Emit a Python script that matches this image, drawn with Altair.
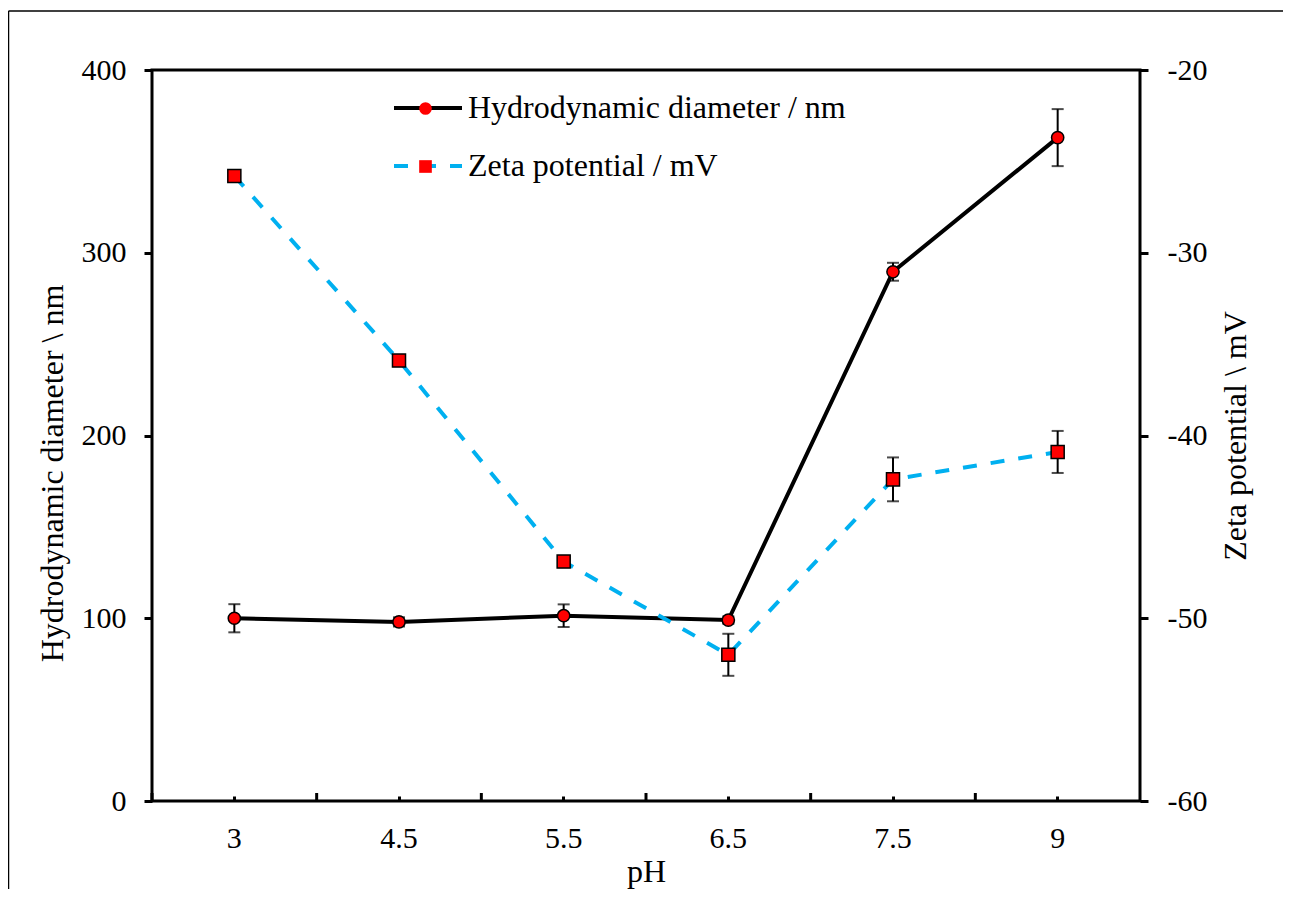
import altair as alt
import pandas as pd

pH = ["3", "4.5", "5.5", "6.5", "7.5", "9"]
hydro = [100, 98, 101.4, 99, 289.6, 363]
hydro_err = [7.7, 2.5, 6.2, 2, 4.9, 15.6]
zeta = [-25.8, -35.9, -46.9, -52.0, -42.4, -40.9]
zeta_err = [0.3, 0.3, 0.3, 1.15, 1.2, 1.15]

H_NAME = "Hydrodynamic diameter / nm"
Z_NAME = "Zeta potential / mV"

df = pd.DataFrame({
    "pH": pH,
    "hydro": hydro,
    "h_lo": [v - e for v, e in zip(hydro, hydro_err)],
    "h_hi": [v + e for v, e in zip(hydro, hydro_err)],
    "zeta": zeta,
    "z_lo": [v - e for v, e in zip(zeta, zeta_err)],
    "z_hi": [v + e for v, e in zip(zeta, zeta_err)],
    "hs": [H_NAME] * len(pH),
    "zs": [Z_NAME] * len(pH),
})

W, H = 988, 731
FONT = "Liberation Serif"
BLUE = "#00B0F0"
RED = "#FF0000"

x_axis = alt.Axis(title="pH", labelFontSize=30, labelFont=FONT, labelColor="black",
                  labelAngle=0, tickSize=5, tickWidth=3, tickColor="black",
                  offset=-5, labelPadding=22, domain=False, grid=False,
                  titleFont=FONT, titleFontSize=32, titleFontWeight="normal",
                  titleColor="black", titlePadding=3)
x_enc = alt.X("pH:N", sort=pH, axis=x_axis,
              scale=alt.Scale(paddingInner=0, paddingOuter=0))

base = alt.Chart(df)

y_left = alt.Y("hydro:Q", scale=alt.Scale(domain=[0, 400], nice=False),
               axis=alt.Axis(title="Hydrodynamic diameter \\ nm", values=[0, 100, 200, 300, 400],
                             orient="left", tickSize=8, tickWidth=3, tickColor="black",
                             domain=False, grid=False, labelFont=FONT, labelFontSize=30,
                             labelColor="black", labelPadding=18,
                             titleFont=FONT, titleFontSize=32, titleFontWeight="normal",
                             titleColor="black", titlePadding=12, titleY=403))
y_right = alt.Y("zeta:Q", scale=alt.Scale(domain=[-60, -20], nice=False),
                axis=alt.Axis(title="Zeta potential \\ mV", values=[-60, -50, -40, -30, -20],
                              labelExpr="'' + datum.value",
                              orient="right", tickSize=8, tickWidth=3, tickColor="black",
                              domain=False, grid=False, labelFont=FONT, labelFontSize=30,
                              labelColor="black", labelPadding=19,
                              titleFont=FONT, titleFontSize=32, titleFontWeight="normal",
                              titleColor="black", titlePadding=14, titleAngle=270,
                              titleBaseline="top"))


def line_legend(y, dash=None):
    kw = dict(orient="none", legendX=240, legendY=y, title=None, padding=0,
              symbolType="stroke", symbolSize=68 * 68, symbolStrokeWidth=4,
              labelFont=FONT, labelFontSize=32, labelColor="black", labelOffset=4,
              labelLimit=1000)
    if dash:
        kw["symbolDash"] = dash
    return alt.Legend(**kw)


def pt_legend(y, shape):
    return alt.Legend(orient="none", legendX=266, legendY=y, title=None, padding=0,
                      symbolType=shape, symbolSize=160, symbolFillColor=RED,
                      symbolStrokeColor="black", symbolStrokeWidth=1.5,
                      labelExpr="''", labelFontSize=1)


h_line = base.mark_line(strokeWidth=4).encode(
    x=x_enc, y=y_left,
    color=alt.Color("hs:N", scale=alt.Scale(range=["black"]), legend=line_legend(2)))
h_rule = base.mark_rule(color="black", strokeWidth=2).encode(x=x_enc, y="h_lo:Q", y2="h_hi:Q")
h_cap_lo = base.mark_tick(color="black", thickness=2, size=12).encode(x=x_enc, y="h_lo:Q")
h_cap_hi = base.mark_tick(color="black", thickness=2, size=12).encode(x=x_enc, y="h_hi:Q")
h_pts = base.mark_point(filled=True, fill=RED, stroke="black", strokeWidth=1.5,
                        size=150, opacity=1).encode(
    x=x_enc, y=y_left,
    shape=alt.Shape("hs:N", scale=alt.Scale(range=["circle"]), legend=pt_legend(31, "circle")))
left = alt.layer(h_line, h_rule, h_cap_lo, h_cap_hi, h_pts)

z_line = base.mark_line(strokeWidth=4, strokeDash=[14, 14]).encode(
    x=x_enc, y=y_right,
    color=alt.Color("zs:N", scale=alt.Scale(range=[BLUE]), legend=line_legend(60, [14, 14])))
z_rule = base.mark_rule(color="black", strokeWidth=2).encode(x=x_enc, y="z_lo:Q", y2="z_hi:Q")
z_cap_lo = base.mark_tick(color="black", thickness=2, size=12).encode(x=x_enc, y="z_lo:Q")
z_cap_hi = base.mark_tick(color="black", thickness=2, size=12).encode(x=x_enc, y="z_hi:Q")
z_pts = base.mark_point(filled=True, fill=RED, stroke="black", strokeWidth=1.5,
                        size=170, opacity=1).encode(
    x=x_enc, y=y_right,
    shape=alt.Shape("zs:N", scale=alt.Scale(range=["square"]), legend=pt_legend(89, "square")))
right = alt.layer(z_line, z_rule, z_cap_lo, z_cap_hi, z_pts)

# inward major ticks at category boundaries
bticks = base.mark_rule(color="black", strokeWidth=3).encode(
    x=alt.X("pH:N", sort=pH, axis=x_axis, bandPosition=0,
            scale=alt.Scale(paddingInner=0, paddingOuter=0)),
    y=alt.value(H - 8), y2=alt.value(H))

# outer frame
frame_top = alt.Chart(pd.DataFrame({"k": [0]})).mark_rule(color="black", strokeWidth=1.5).encode(
    x=alt.value(-143.5), x2=alt.value(W + 200), y=alt.value(-59))
frame_left = alt.Chart(pd.DataFrame({"k": [0]})).mark_rule(color="black", strokeWidth=1.5).encode(
    x=alt.value(-143.5), y=alt.value(-59), y2=alt.value(H + 200))

chart = alt.layer(frame_top, frame_left, bticks, left, right).resolve_scale(
    y="independent", color="independent", shape="independent"
).properties(
    width=W, height=H,
    autosize=alt.AutoSizeParams(type="none"),
    padding={"left": 144, "top": 62, "right": 143, "bottom": 88},
    background="white",
).configure_view(stroke="black", strokeWidth=3)

chart.save("out.html", embed_options={"renderer": "svg", "actions": False})
